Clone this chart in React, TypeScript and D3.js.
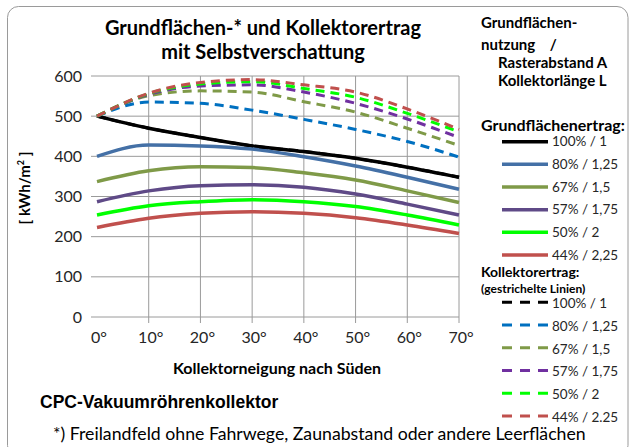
import * as d3 from "d3";

const ANGLES = [0, 10, 20, 30, 40, 50, 60, 70];
const Y_TICKS = [0, 100, 200, 300, 400, 500, 600];
const SERIES_LABELS = ["100% / 1", "80% / 1,25", "67% / 1,5", "57% / 1,75", "50% / 2", "44% / 2,25"];
const DASH_LABELS = ["100% / 1", "80% / 1,25", "67% / 1,5", "57% / 1,75", "50% / 2", "44% / 2.25"];

// Grundflächenertrag (solid)
const groundYield = [
  [500, 470, 447, 426, 412, 395, 373, 348],
  [400, 428, 426, 418, 399, 376, 348, 318],
  [337, 364, 374, 372, 359, 341, 314, 285],
  [287, 314, 327, 329, 323, 306, 281, 254],
  [254, 277, 287, 292, 287, 275, 254, 229],
  [223, 246, 258, 262, 258, 247, 229, 208],
];

// Kollektorertrag (dashed)
const collectorYield = [
  [500, 470, 447, 426, 412, 395, 373, 348],
  [500, 535, 532, 515, 492, 467, 437, 398],
  [500, 551, 563, 560, 536, 510, 470, 427],
  [500, 554, 575, 578, 560, 532, 493, 447],
  [500, 556, 580, 586, 569, 547, 507, 461],
  [500, 557, 584, 591, 578, 560, 518, 467],
];

const SOLID_COLORS = ["#000000", "#4470a6", "#7f9a48", "#5f4a87", "#00ff00", "#c0504d"];
const DASH_COLORS = ["#000000", "#0070c0", "#7f9a48", "#7030a0", "#00ff00", "#c0504d"];

const W = 629;
const H = 447;
const FONT = "Lato, 'Open Sans', sans-serif";

export default function App() {
  const x = d3.scaleLinear().domain([0, 70]).range([97, 459]);
  const y = d3.scaleLinear().domain([0, 600]).range([317, 76]);

  const line = d3
    .line<number>()
    .x((_, i) => x(ANGLES[i]))
    .y((d) => y(d))
    .curve(d3.curveMonotoneX);

  const legendX0 = 502;
  const legendX1 = 548;
  const solidRowY = d3.scaleLinear().domain([0, 5]).range([141.7, 255]);
  const dashRowY = d3.scaleLinear().domain([0, 5]).range([302.3, 416]);

  return (
    <svg
      width={W}
      height={H}
      style={{ position: "fixed", left: 0, top: 0, background: "#fff" }}
      fontFamily={FONT}
    >
      <rect x={7.5} y={6.5} width={620.5} height={450} rx={11} fill="#fff" stroke="#9a9a9a" />

      {/* title */}
      <text x={263} y={35} textAnchor="middle" fontSize={20} fontWeight="bold" fill="#000">
        Grundflächen-* und Kollektorertrag
      </text>
      <text x={263} y={59} textAnchor="middle" fontSize={20} fontWeight="bold" fill="#000">
        mit Selbstverschattung
      </text>

      {/* grid */}
      {Y_TICKS.map((t) => (
        <line key={"h" + t} x1={91} x2={x(70)} y1={y(t)} y2={y(t)} stroke="#9a9a9a" />
      ))}
      {ANGLES.filter((a) => a > 0).map((a) => (
        <line key={"v" + a} x1={x(a)} x2={x(a)} y1={y(600)} y2={y(0) + 6} stroke="#9a9a9a" />
      ))}

      {/* y ticks */}
      {Y_TICKS.map((t) => (
        <text key={"yt" + t} x={82} y={y(t)} dy="0.35em" textAnchor="end" fontSize={16} fill="#262626">
          {t}
        </text>
      ))}
      {/* x ticks */}
      {ANGLES.map((a) => (
        <text key={"xt" + a} x={x(a) + 2} y={343} textAnchor="middle" fontSize={16} fill="#262626">
          {a}°
        </text>
      ))}

      <text
        transform="translate(30,188) rotate(-90)"
        textAnchor="middle"
        fontSize={15}
        fontWeight="bold"
        fill="#000"
      >
        [ kWh/m<tspan fontSize={9} dy={-6}>2</tspan>
        <tspan dy={6}> ]</tspan>
      </text>
      <text x={277} y={374} textAnchor="middle" fontSize={16} fontWeight="bold" fill="#000">
        Kollektorneigung nach Süden
      </text>

      {/* series */}
      {groundYield.map((s, i) => (
        <path key={"s" + i} d={line(s) ?? ""} fill="none" stroke={SOLID_COLORS[i]} strokeWidth={3.5} />
      ))}
      {collectorYield.map((s, i) => (
        <path
          key={"d" + i}
          d={line(s) ?? ""}
          fill="none"
          stroke={DASH_COLORS[i]}
          strokeWidth={3}
          strokeDasharray="9,6"
        />
      ))}

      {/* legend header */}
      <g fontWeight="bold" fill="#000">
        <text x={481} y={28} fontSize={15}>Grundflächen-</text>
        <text x={481} y={50} fontSize={15} xmlSpace="preserve">nutzung    /</text>
        <text x={498} y={68} fontSize={15}>Rasterabstand A</text>
        <text x={498} y={86} fontSize={15}>Kollektorlänge L</text>
        <text x={481} y={131} fontSize={16}>Grundflächenertrag:</text>
        <text x={481} y={277} fontSize={14}>Kollektorertrag:</text>
        <text x={481} y={293} fontSize={12}>(gestrichelte Linien)</text>
      </g>

      {SERIES_LABELS.map((lab, i) => (
        <g key={"ls" + i}>
          <line x1={legendX0} x2={legendX1} y1={solidRowY(i)} y2={solidRowY(i)} stroke={SOLID_COLORS[i]} strokeWidth={3.5} />
          <text x={552} y={solidRowY(i)} dy="0.35em" fontSize={13.5} fill="#262626">
            {lab}
          </text>
        </g>
      ))}
      {DASH_LABELS.map((lab, i) => (
        <g key={"ld" + i}>
          <line
            x1={legendX0}
            x2={legendX1}
            y1={dashRowY(i)}
            y2={dashRowY(i)}
            stroke={DASH_COLORS[i]}
            strokeWidth={3}
            strokeDasharray="10,8"
          />
          <text x={552} y={dashRowY(i) + 1} dy="0.35em" fontSize={13.5} fill="#262626">
            {lab}
          </text>
        </g>
      ))}

      <text x={40} y={408} fontSize={17.5} fontWeight="bold" fontFamily="'Liberation Sans', Arial, sans-serif" fill="#000">
        CPC-Vakuumröhrenkollektor
      </text>
      <text x={53} y={440} fontSize={17.7} fill="#000">
        *) Freilandfeld ohne Fahrwege, Zaunabstand oder andere Leerflächen
      </text>
    </svg>
  );
}
